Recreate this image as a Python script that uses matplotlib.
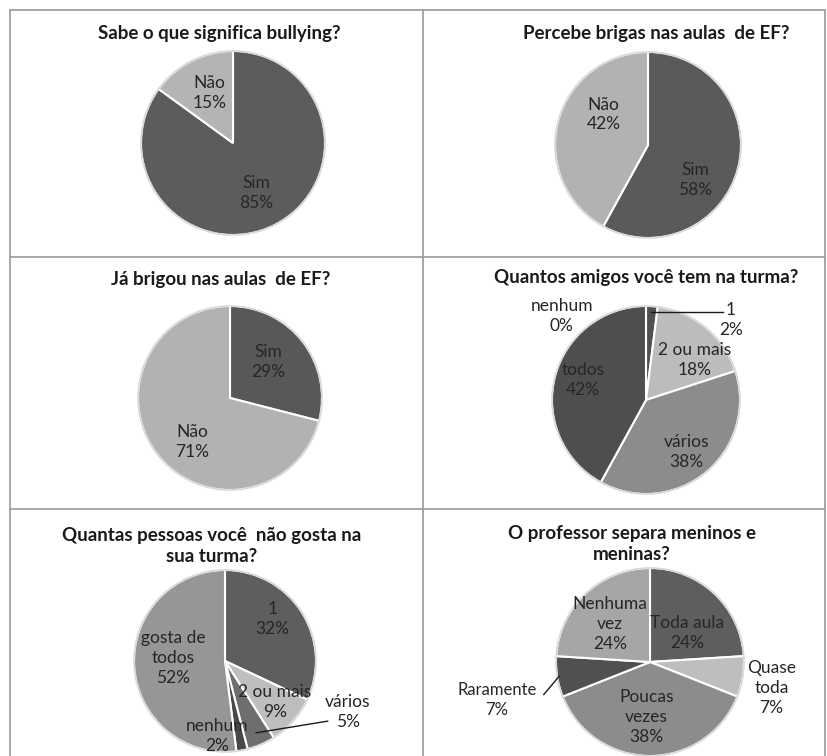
import matplotlib.pyplot as plt
import numpy as np
from matplotlib.lines import Line2D

plt.rcParams['font.family'] = ['Lato', 'DejaVu Sans']

# data, one list per chart
titles = [
    "Sabe o que significa bullying?",
    "Percebe brigas nas aulas  de EF?",
    "Já brigou nas aulas  de EF?",
    "Quantos amigos você tem na turma?",
    "Quantas pessoas você  não gosta na\nsua turma?",
    "O professor separa meninos e\nmeninas?",
]
labels_1 = ["Sim", "Não"]
values_1 = [85, 15]
labels_2 = ["Sim", "Não"]
values_2 = [58, 42]
labels_3 = ["Sim", "Não"]
values_3 = [29, 71]
labels_4 = ["nenhum", "1", "2 ou mais", "vários", "todos"]
values_4 = [0, 2, 18, 38, 42]
labels_5 = ["1", "2 ou mais", "vários", "nenhum", "gosta de\ntodos"]
values_5 = [32, 9, 5, 2, 52]
labels_6 = ["Toda aula", "Quase\ntoda", "Poucas\nvezes", "Raramente", "Nenhuma\nvez"]
values_6 = [24, 7, 38, 7, 24]

# slice colours
colors_1 = ['#5c5c5c', '#b4b4b4']
colors_2 = ['#5a5a5a', '#b2b2b2']
colors_3 = ['#585858', '#b2b2b2']
colors_4 = ['#505050', '#505050', '#bcbcbc', '#8c8c8c', '#4e4e4e']
colors_5 = ['#5e5e5e', '#bebebe', '#6e6e6e', '#484848', '#969696']
colors_6 = ['#5e5e5e', '#bebebe', '#8c8c8c', '#505050', '#a6a6a6']

W, H = 827, 756
fig = plt.figure(figsize=(W / 100, H / 100), dpi=100)

# panel frame lines (pixels)
line_col = '#a0a0a0'
for x in [10, 423, 825]:
    fig.add_artist(Line2D([x / W, x / W], [0, 1 - 10 / H], color=line_col, lw=1.3))
for y in [10, 257, 509]:
    fig.add_artist(Line2D([10 / W, 825 / W], [1 - y / H, 1 - y / H], color=line_col, lw=1.3))

# pie layout: centre x, centre y, radius (pixels), title centre
panels = [
    dict(cx=233, cy=143, r=92, tx=219, ty=33),
    dict(cx=648, cy=145, r=93, tx=656, ty=33),
    dict(cx=230, cy=398, r=92, tx=221, ty=280),
    dict(cx=646, cy=400, r=94, tx=646, ty=278),
    dict(cx=225, cy=661, r=91, tx=212, ty=546),
    dict(cx=650, cy=662, r=94, tx=632, ty=544),
]
# label placement: (distance, angle shift from slice middle)
label_pos = [
    [(0.6, -2), (0.6, -2)],
    [(0.63, -22), (0.58, -20)],
    [(0.57, 6), (0.63, 12)],
    [(1.27, 45), (1.245, -43), (0.67, -11), (0.70, -2), (0.70, -3)],
    [(0.70, 9), (0.71, 2), (1.46, 44), (0.83, -17), (0.57, -7)],
    [(0.50, -9), (1.32, -3), (0.59, -4), (1.68, 5), (0.59, 3)],
]
# leader lines: (panel, slice, start distance, end offset from label)
leaders = [
    (3, 1, 0.93, (-0.09, 0.08)),
    (4, 2, 0.86, (-0.22, -0.10)),
    (5, 3, 0.98, (0.50, 0.06)),
]

all_values = [values_1, values_2, values_3, values_4, values_5, values_6]
all_labels = [labels_1, labels_2, labels_3, labels_4, labels_5, labels_6]
all_colors = [colors_1, colors_2, colors_3, colors_4, colors_5, colors_6]

text_col = '#262626'
label_points = {}
mids_all = {}
axes = []
for i, p in enumerate(panels):
    cx, cy, r = p['cx'], p['cy'], p['r']
    ax = fig.add_axes([(cx - r) / W, 1 - (cy + r) / H, 2 * r / W, 2 * r / H])
    vals = all_values[i]
    wedges, _ = ax.pie(vals, colors=all_colors[i], startangle=90, counterclock=False,
                       radius=1, wedgeprops=dict(edgecolor='white', linewidth=1.5))
    for w in wedges:
        w.set_clip_on(False)
    ring = plt.Circle((0, 0), 1.0, fill=False, ec='#d8d8d8', lw=1.2, clip_on=False)
    ax.add_patch(ring)
    ax.set_xlim(-1, 1)
    ax.set_ylim(-1, 1)
    ax.set_aspect('equal')
    ax.axis('off')
    axes.append(ax)

    total = float(sum(vals))
    cum = np.cumsum([0] + list(vals))
    for j, v in enumerate(vals):
        mid = 90 - 360 * (cum[j] + v / 2) / total
        mids_all[(i, j)] = mid
        d, shift = label_pos[i][j]
        a = np.radians(mid + shift)
        lx, ly = d * np.cos(a), d * np.sin(a)
        label_points[(i, j)] = (lx, ly)
        fs = 12.5
        if (i, j) == (5, 3):
            fs = 12
        ax.text(lx, ly, f"{all_labels[i][j]}\n{v}%", ha='center', va='center',
                fontsize=fs, color=text_col, linespacing=1.3, clip_on=False)

    fig.text(p['tx'] / W, 1 - p['ty'] / H, titles[i], ha='center', va='center',
             fontsize=13.5, fontweight='bold', color='#1a1a1a', linespacing=1.35)

for i, j, sd, (ox, oy) in leaders:
    a = np.radians(mids_all[(i, j)])
    sx, sy = sd * np.cos(a), sd * np.sin(a)
    lx, ly = label_points[(i, j)]
    ex, ey = lx + ox, ly + oy
    if i == 3:
        sy = ey
    axes[i].plot([sx, ex], [sy, ey], color='#1a1a1a', lw=1.0, clip_on=False)

fig.savefig('out.png', dpi=100)
